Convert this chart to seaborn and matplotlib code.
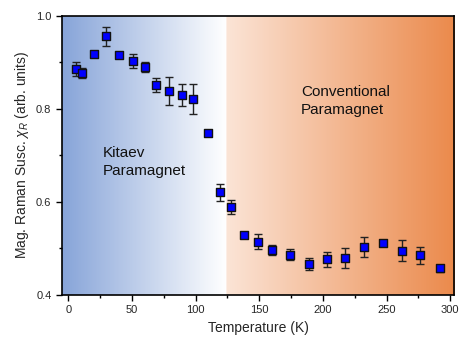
import matplotlib
matplotlib.use("Agg")
import matplotlib.pyplot as plt
from matplotlib.colors import LinearSegmentedColormap
from matplotlib.ticker import MultipleLocator
import seaborn as sns
import numpy as np
import pandas as pd

# Data
temperature = [6, 11, 20, 30, 40, 51, 60, 69, 79, 89, 98, 110,
               119, 128, 138, 149, 160, 174, 189, 203, 217, 232, 247, 262, 276, 292]
chi_r = [0.885, 0.877, 0.918, 0.956, 0.915, 0.903, 0.890, 0.851, 0.839, 0.830, 0.821, 0.749,
         0.621, 0.589, 0.528, 0.514, 0.497, 0.487, 0.467, 0.477, 0.480, 0.503, 0.511, 0.495, 0.485, 0.457]
chi_err = [0.015, 0.010, 0.005, 0.020, 0.005, 0.015, 0.010, 0.015, 0.030, 0.024, 0.032, 0.004,
           0.018, 0.016, 0.005, 0.016, 0.011, 0.011, 0.013, 0.016, 0.022, 0.021, 0.005, 0.023, 0.019, 0.007]

df = pd.DataFrame({"T": temperature, "chi": chi_r, "err": chi_err})

sns.set_style("ticks")
plt.rcParams["font.family"] = ["Liberation Sans", "DejaVu Sans"]
plt.rcParams["mathtext.fontset"] = "custom"
plt.rcParams["mathtext.it"] = "Liberation Sans:italic"
plt.rcParams["mathtext.rm"] = "Liberation Sans"

fig = plt.figure(figsize=(4.69, 3.52), dpi=100)
ax = fig.add_axes([0.132, 0.162, 0.836, 0.793])

xmin, xmax = -5, 303
ymin, ymax = 0.4, 1.0

# Background: blue -> white up to ~124 K, then peach -> orange
split = (124 - xmin) / (xmax - xmin)
cmap = LinearSegmentedColormap.from_list(
    "bg",
    [(0.0, "#88a5d9"), (split - 0.002, "#ffffff"),
     (split, "#fbe4d6"), (1.0, "#eb8a4c")])
grad = np.linspace(0, 1, 600).reshape(1, -1)
ax.imshow(grad, cmap=cmap, aspect="auto", extent=[xmin, xmax, ymin, ymax],
          zorder=0, interpolation="bilinear")

ax.errorbar(df["T"], df["chi"], yerr=df["err"], fmt="none", ecolor="#222222",
            elinewidth=1.0, capsize=3, capthick=1.0, zorder=2)
sns.scatterplot(data=df, x="T", y="chi", marker="s", s=38, color="#0000ff",
                edgecolor="#111111", linewidth=1.0, ax=ax, zorder=3, legend=False)

ax.set_xlim(xmin, xmax)
ax.set_ylim(ymin, ymax)

ax.xaxis.set_major_locator(MultipleLocator(50))
ax.xaxis.set_minor_locator(MultipleLocator(25))
ax.yaxis.set_major_locator(MultipleLocator(0.2))
ax.yaxis.set_minor_locator(MultipleLocator(0.1))
ax.set_yticks([0.4, 0.6, 0.8, 1.0], labels=["0.4", "0.6", "0.8", "1.0"])
ax.tick_params(which="major", direction="out", length=4, width=1, labelsize=8, color="black")
ax.tick_params(which="minor", direction="out", length=2.5, width=1, color="black")
for s in ax.spines.values():
    s.set_linewidth(1.2)
    s.set_color("black")

ax.set_xlabel("Temperature (K)", fontsize=10)
ax.set_ylabel(r"Mag. Raman Susc. $\chi_R$ (arb. units)", fontsize=10)

ax.text(27, 0.652, "Kitaev\nParamagnet", fontsize=11, ha="left", va="bottom",
        linespacing=1.3, color="#111111")
ax.text(183, 0.783, "Conventional\nParamagnet", fontsize=11, ha="left", va="bottom",
        linespacing=1.3, color="#111111")

fig.savefig("out.png", dpi=100)
plt.close(fig)
